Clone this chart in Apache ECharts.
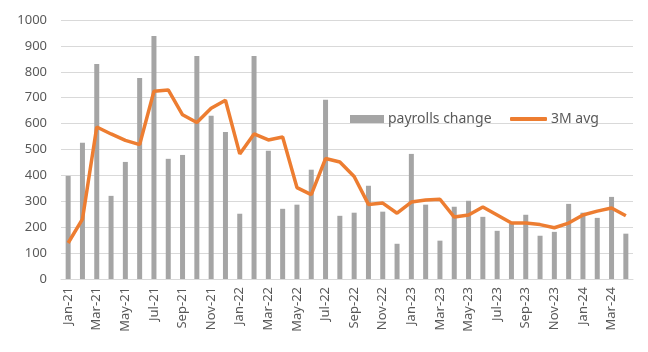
<!DOCTYPE html>
<html>
<head>
<meta charset="utf-8">
<script src="https://cdn.jsdelivr.net/npm/echarts@6/dist/echarts.min.js"></script>
<style>
  html, body { margin: 0; padding: 0; background: #fff; }
  #chart { width: 648px; height: 352px; }
</style>
</head>
<body>
<div id="chart"></div>
<script>
const months = [
  'Jan-21', 'Feb-21', 'Mar-21', 'Apr-21', 'May-21', 'Jun-21', 'Jul-21', 'Aug-21', 'Sep-21', 'Oct-21', 'Nov-21', 'Dec-21',
  'Jan-22', 'Feb-22', 'Mar-22', 'Apr-22', 'May-22', 'Jun-22', 'Jul-22', 'Aug-22', 'Sep-22', 'Oct-22', 'Nov-22', 'Dec-22',
  'Jan-23', 'Feb-23', 'Mar-23', 'Apr-23', 'May-23', 'Jun-23', 'Jul-23', 'Aug-23', 'Sep-23', 'Oct-23', 'Nov-23', 'Dec-23',
  'Jan-24', 'Feb-24', 'Mar-24', 'Apr-24'
]
// monthly change in payrolls (k)
const payrollsChange = [
  398, 526, 830, 321, 452, 776, 938, 464, 479, 861, 630, 568,
  252, 861, 495, 271, 287, 422, 692, 244, 256, 360, 260, 136,
  483, 287, 148, 279, 302, 240, 186, 213, 248, 167, 182, 290,
  256, 236, 317, 175
]
// 3 month average
const avg3m = [
  139, 231, 587, 560, 535, 519, 725, 730, 634, 604, 659, 690,
  483, 560, 537, 548, 353, 326, 465, 452, 396, 288, 293, 254,
  297, 305, 308, 239, 247, 278, 247, 216, 216, 210, 198, 216,
  247, 262, 274, 244
]

const textColor = '#595959'
const font = 'Noto Sans'
const legendText = { color: textColor, fontSize: 14, fontFamily: font, padding: [0, 0, 0, -1] }

const chart = echarts.init(document.getElementById('chart'))
chart.setOption({
  animation: false,
  grid: { left: 61, right: 15, top: 20, bottom: 73 },
  legend: [
    {
      left: 345,
      top: 107,
      itemWidth: 34,
      itemHeight: 8,
      textStyle: legendText,
      data: [{ name: 'payrolls change', icon: 'rect' }]
    },
    {
      left: 505,
      top: 107,
      itemWidth: 37,
      itemHeight: 4,
      textStyle: legendText,
      data: [{ name: '3M avg', icon: 'roundRect' }]
    }
  ],
  xAxis: {
    type: 'category',
    data: months,
    axisLine: { lineStyle: { color: '#d9d9d9' } },
    axisTick: { interval: 1, length: 5, lineStyle: { color: '#d9d9d9' } },
    axisLabel: {
      interval: 1,
      rotate: 90,
      color: textColor,
      fontSize: 13,
      fontFamily: font,
      margin: 8
    }
  },
  yAxis: {
    type: 'value',
    min: 0,
    max: 1000,
    interval: 100,
    axisLine: { show: false },
    axisTick: { show: false },
    axisLabel: {
      color: textColor,
      fontSize: 13,
      fontFamily: font,
      margin: 14,
      formatter: v => String(v)
    },
    splitLine: { lineStyle: { color: '#d9d9d9' } }
  },
  series: [
    {
      name: 'payrolls change',
      type: 'bar',
      data: payrollsChange,
      barWidth: 5,
      itemStyle: { color: '#a5a5a5' }
    },
    {
      name: '3M avg',
      type: 'line',
      data: avg3m,
      symbol: 'none',
      lineStyle: { color: '#ed7d31', width: 3.5 },
      itemStyle: { color: '#ed7d31' }
    }
  ]
})
</script>
</body>
</html>
